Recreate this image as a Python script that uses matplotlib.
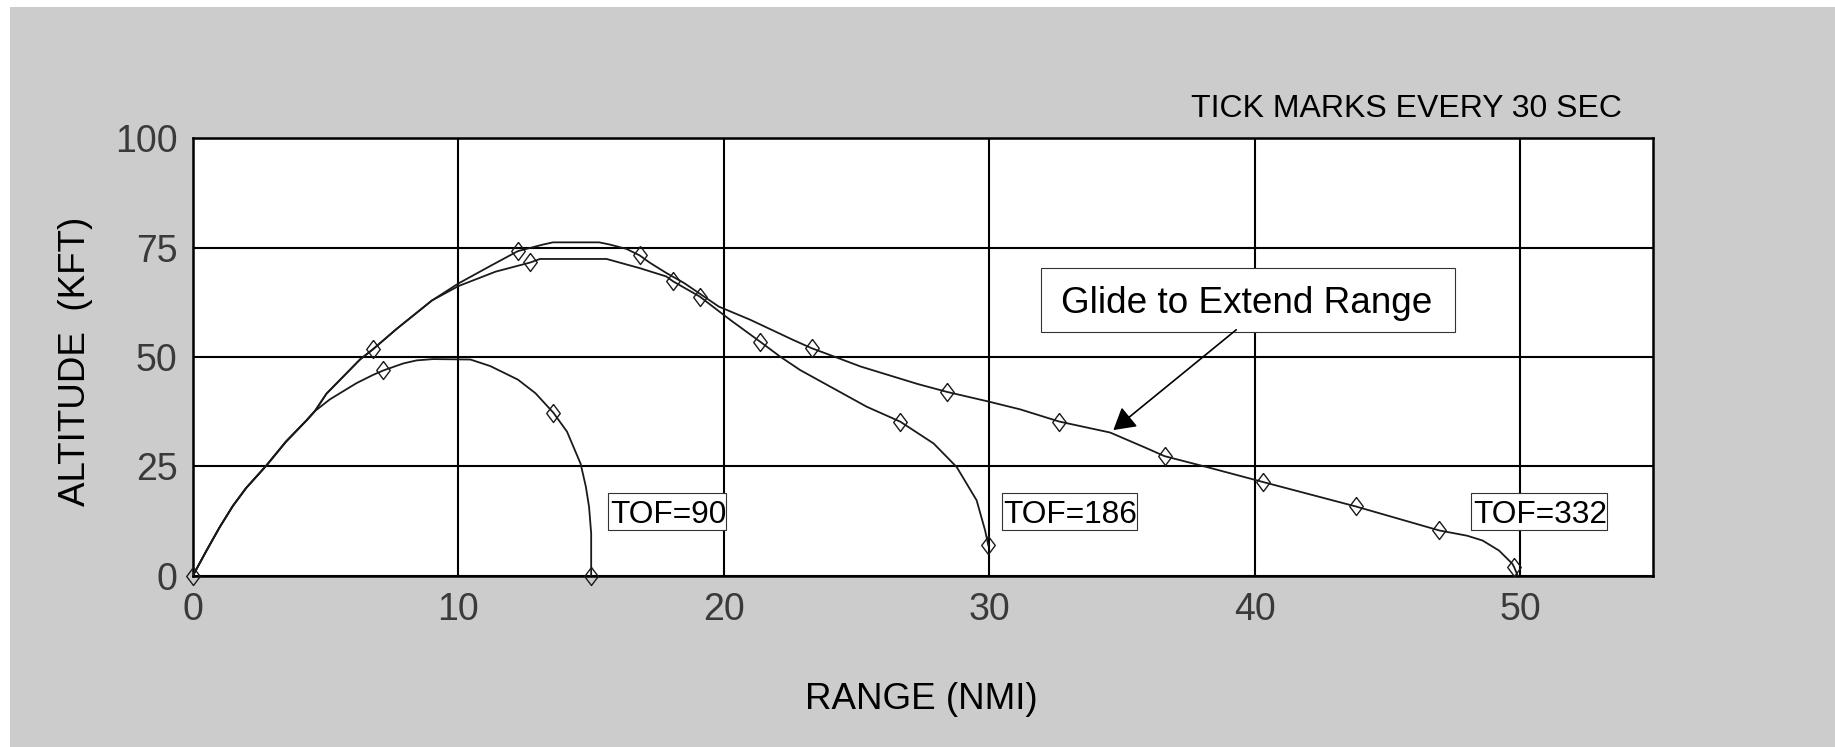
import matplotlib
matplotlib.use("Agg")
import matplotlib.pyplot as plt
from matplotlib.patches import Rectangle

plt.rcParams['font.family'] = ['Liberation Sans', 'DejaVu Sans']

# ---------------- data ----------------
x_ticks = [0, 10, 20, 30, 40, 50]
y_ticks = [0, 25, 50, 75, 100]

# common climb from launch
climb_x = [0.0, 0.5, 1.0, 1.5, 2.0, 2.77, 3.5, 4.28, 4.59]
climb_y = [0.0, 5.6, 11.0, 15.9, 20.0, 25.2, 30.6, 35.5, 37.6]

# TOF=90 branch
tof90_x = [5.16, 6.16, 6.79, 7.17, 7.92, 8.42, 9.05, 10.45, 11.2, 12.24, 12.9,
           13.58, 14.09, 14.6, 14.8, 14.92, 15.0, 15.0]
tof90_y = [40.3, 44.0, 45.9, 46.9, 48.5, 49.2, 49.5, 49.4, 47.9, 44.8, 41.7,
           37.2, 32.9, 25.6, 20.3, 15.7, 9.6, 0.0]

# common part of the two longer trajectories
upper_x = [5.03, 5.79, 6.29, 6.79, 7.67, 9.0]
upper_y = [41.6, 46.3, 49.4, 51.8, 56.4, 62.9]

# TOF=186 branch
tof186_x = [10.0, 11.4, 12.71, 13.07, 15.58, 16.83, 17.83, 18.08, 19.09, 20.23,
            21.36, 22.11, 22.87, 25.38, 26.64, 27.9, 28.77, 29.52, 29.84, 29.96]
tof186_y = [66.2, 69.5, 71.6, 72.4, 72.4, 70.3, 68.4, 67.3, 63.8, 58.5,
            53.5, 50.1, 47.0, 38.6, 35.2, 30.2, 24.8, 17.2, 10.3, 6.9]

# TOF=332 branch
tof332_x = [10.0, 11.2, 12.24, 13.19, 13.56, 15.3, 15.7, 16.33, 16.83, 17.22,
            17.83, 18.5, 19.81, 20.99, 22.6, 23.3, 24.1, 25.15, 27.3, 28.4,
            29.96, 31.16, 32.64, 34.55, 35.93, 36.6, 38.26, 40.3, 43.8, 46.95,
            48.0, 48.58, 49.2, 49.7, 49.77, 49.9]
tof332_y = [66.8, 70.8, 74.2, 75.7, 76.2, 76.2, 75.7, 74.7, 73.2, 71.5,
            69.2, 66.9, 61.5, 58.5, 53.9, 52.0, 50.2, 47.8, 43.8, 42.0,
            39.8, 38.0, 35.2, 32.7, 29.1, 27.3, 24.7, 21.4, 15.8, 10.3,
            9.1, 8.0, 5.7, 2.7, 1.9, 0.0]

# 30-second tick marks
m90_x = [0.0, 7.17, 13.58, 15.0]
m90_y = [0.0, 46.9, 37.2, 0.0]
m186_x = [6.79, 12.71, 18.08, 19.09, 21.36, 26.64, 29.96]
m186_y = [51.8, 71.6, 67.3, 63.8, 53.5, 35.2, 6.9]
m332_x = [12.24, 16.83, 23.3, 28.4, 32.64, 36.6, 40.3, 43.8, 46.95, 49.77]
m332_y = [74.2, 73.2, 52.0, 42.0, 35.2, 27.3, 21.4, 15.8, 10.3, 1.9]

tof_labels = ["TOF=90", "TOF=186", "TOF=332"]

# ---------------- figure ----------------
W, H = 1835, 747
fig = plt.figure(figsize=(W / 100, H / 100), dpi=100)
fig.patch.set_facecolor('white')
fig.add_artist(Rectangle((10 / W, 0), 1 - 10 / W, 1 - 7 / H,
                         transform=fig.transFigure, facecolor='#cccccc',
                         edgecolor='none', zorder=-10))

ax = fig.add_axes([193 / W, 1 - 575.5 / H, (1653 - 193) / W, (575.5 - 138.3) / H])
ax.set_facecolor('white')
ax.set_xlim(0, 55)
ax.set_ylim(0, 100)
ax.set_xticks(x_ticks)
ax.set_yticks(y_ticks)
ax.set_xticklabels([str(v) for v in x_ticks])
ax.set_yticklabels([str(v) for v in y_ticks])
ax.tick_params(length=0, labelsize=27, labelcolor='#3a3a3a')
ax.tick_params(axis='x', pad=12)
ax.tick_params(axis='y', pad=11)
ax.grid(True, color='black', lw=1.5)
for s in ax.spines.values():
    s.set_color('black')
    s.set_linewidth(1.8)

line_kw = dict(color='#1a1a1a', lw=1.3, zorder=3)
ax.plot(climb_x + tof90_x, climb_y + tof90_y, **line_kw)
ax.plot(climb_x + upper_x + tof186_x, climb_y + upper_y + tof186_y, **line_kw)
ax.plot(climb_x + upper_x + tof332_x, climb_y + upper_y + tof332_y, **line_kw)

diamond = [(0, 1), (0.75, 0), (0, -1), (-0.75, 0), (0, 1)]
mk_kw = dict(ls='none', marker=diamond, ms=13, mfc='none', mec='#1a1a1a',
             mew=1.0, zorder=4, clip_on=False)
ax.plot(m90_x, m90_y, **mk_kw)
ax.plot(m186_x, m186_y, **mk_kw)
ax.plot(m332_x, m332_y, **mk_kw)

# TOF label boxes
tof_box_x0 = [15.64, 30.47, 48.16]
tof_box_x1 = [20.06, 35.58, 53.27]
for lab, x0, x1 in zip(tof_labels, tof_box_x0, tof_box_x1):
    ax.add_patch(Rectangle((x0, 10.32), x1 - x0, 18.97 - 10.32, facecolor='white',
                           edgecolor='#333333', lw=0.8, zorder=5))
    ax.text(x0 + 0.06, 12.0, lab, ha='left', va='baseline', fontsize=22.8,
            color='black', zorder=6)

# Glide annotation
ax.add_patch(Rectangle((31.93, 55.67), 47.55 - 31.93, 70.34 - 55.67,
                       facecolor='white', edgecolor='#333333', lw=0.8, zorder=5))
ax.text(39.69, 60.0, "Glide to Extend Range", ha='center', va='baseline',
        fontsize=26.6, color='black', zorder=6)
ax.annotate('', xy=(34.67, 33.26), xytext=(39.3, 56.2),
            arrowprops=dict(arrowstyle='-|>,head_length=0.6,head_width=0.35',
                            mutation_scale=22, lw=1.2, color='black',
                            shrinkA=0, shrinkB=0), zorder=6)

# titles / axis labels
fig.text(1622.4 / W, 1 - 117.3 / H, "TICK MARKS EVERY 30 SEC", ha='right',
         va='baseline', fontsize=23, color='black')
fig.text(921.5 / W, 1 - 709.3 / H, "RANGE (NMI)", ha='center', va='baseline',
         fontsize=26.5, color='black')
fig.text(85 / W, 1 - 361.6 / H, "ALTITUDE  (KFT)", rotation=90,
         rotation_mode='anchor', ha='center', va='baseline', fontsize=26.5,
         color='black')

fig.savefig("out.png", dpi=100, facecolor=fig.get_facecolor())
